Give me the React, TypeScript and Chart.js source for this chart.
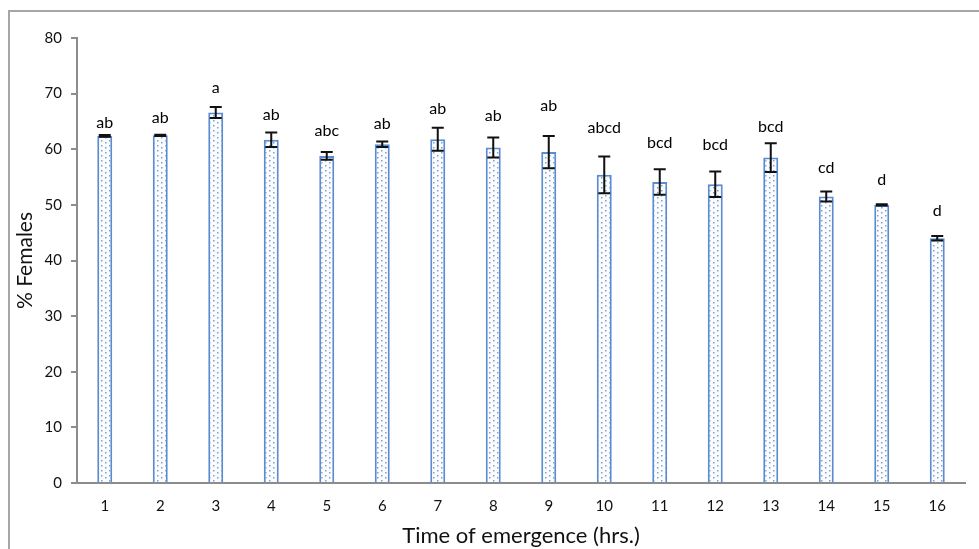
import React, { useEffect, useRef } from "react";
import { Chart, registerables } from "chart.js";

Chart.register(...registerables);

const categories = ["1", "2", "3", "4", "5", "6", "7", "8", "9", "10", "11", "12", "13", "14", "15", "16"];
const femalesPct = [62.4, 62.5, 66.6, 61.7, 58.8, 60.9, 61.8, 60.3, 59.5, 55.4, 54.1, 53.7, 58.5, 51.5, 50.0, 44.0];
const stdErrors = [0.15, 0.1, 1.0, 1.3, 0.7, 0.5, 2.05, 1.8, 2.9, 3.3, 2.3, 2.3, 2.6, 0.9, 0.1, 0.4];
const letters = ["ab", "ab", "a", "ab", "abc", "ab", "ab", "ab", "ab", "abcd", "bcd", "bcd", "bcd", "cd", "d", "d"];
const letterLevels = [64.7, 65.7, 71.0, 66.2, 63.3, 64.5, 67.2, 66.0, 67.8, 63.9, 61.2, 60.8, 64.1, 56.7, 54.5, 49.0];
const yTicks = [0, 10, 20, 30, 40, 50, 60, 70, 80];

const FONT = "Lato, 'Open Sans', sans-serif";

function makePattern(): CanvasPattern | string {
  const c = document.createElement("canvas");
  c.width = 8;
  c.height = 5;
  const ctx = c.getContext("2d");
  if (!ctx) return "#f7f9fd";
  ctx.fillStyle = "#fbfcfe";
  ctx.fillRect(0, 0, 8, 5);
  ctx.fillStyle = "#7f9fcc";
  ctx.fillRect(1, 2, 1.5, 1.5);
  ctx.fillRect(5, 0, 1.5, 1.5);
  const p = ctx.createPattern(c, "repeat");
  return p || "#f7f9fd";
}

const errorBarPlugin = {
  id: "errorBars",
  afterDatasetsDraw(chart: any) {
    const ctx = chart.ctx;
    const meta = chart.getDatasetMeta(0);
    const y = chart.scales.y;
    ctx.save();
    ctx.strokeStyle = "#111";
    ctx.lineWidth = 2;
    meta.data.forEach((bar: any, i: number) => {
      const v = femalesPct[i];
      const e = stdErrors[i];
      const x = bar.x;
      const yTop = y.getPixelForValue(v + e);
      const yBot = y.getPixelForValue(v - e);
      ctx.beginPath();
      ctx.moveTo(x, yTop);
      ctx.lineTo(x, yBot);
      ctx.moveTo(x - 6, yTop);
      ctx.lineTo(x + 6, yTop);
      ctx.moveTo(x - 6, yBot);
      ctx.lineTo(x + 6, yBot);
      ctx.stroke();
    });
    ctx.fillStyle = "#000";
    ctx.font = `16px ${FONT}`;
    ctx.textAlign = "center";
    ctx.textBaseline = "middle";
    meta.data.forEach((bar: any, i: number) => {
      ctx.fillText(letters[i], bar.x, y.getPixelForValue(letterLevels[i]));
    });
    ctx.restore();
  },
};

export default function App() {
  const ref = useRef<HTMLCanvasElement | null>(null);

  useEffect(() => {
    if (!ref.current) return;
    const chart = new Chart(ref.current, {
      type: "bar",
      data: {
        labels: categories,
        datasets: [
          {
            label: "% Females",
            data: femalesPct,
            backgroundColor: makePattern() as any,
            borderColor: "#5b8bd0",
            borderWidth: 2,
            barPercentage: 0.27,
            categoryPercentage: 1,
          },
        ],
      },
      options: {
        animation: false,
        responsive: false,
        maintainAspectRatio: false,
        layout: { padding: { left: 0, right: 14, top: 38, bottom: 0 } },
        plugins: {
          legend: { display: false },
          tooltip: { enabled: false },
        },
        scales: {
          x: {
            grid: { display: false, drawTicks: false },
            border: { display: true, color: "#8c8c8c", width: 2 },
            ticks: { color: "#111", font: { family: FONT, size: 15 }, padding: 14 },
            title: {
              display: true,
              text: "Time of emergence (hrs.)",
              color: "#111",
              font: { family: FONT, size: 22 },
              padding: { top: 5, bottom: 0 },
            },
            afterFit: (scale: any) => {
              scale.height = 66;
            },
          },
          y: {
            min: 0,
            max: 80,
            afterBuildTicks: (scale: any) => {
              scale.ticks = yTicks.map((v) => ({ value: v }));
            },
            grid: { display: true, drawOnChartArea: false, drawTicks: true, tickLength: 6, color: "#8c8c8c", lineWidth: 2 },
            border: { display: true, color: "#8c8c8c", width: 2 },
            ticks: { color: "#111", font: { family: FONT, size: 15 }, padding: 9 },
            title: {
              display: true,
              text: "% Females",
              color: "#111",
              font: { family: FONT, size: 21 },
              padding: { top: 13, bottom: 0 },
            },
            afterFit: (scale: any) => {
              scale.width = 77;
            },
          },
        },
      },
      plugins: [errorBarPlugin],
    });
    return () => chart.destroy();
  }, []);

  return (
    <div style={{ position: "fixed", left: 0, top: 0, width: 979, height: 549, background: "#fff", overflow: "hidden" }}>
      <div
        style={{
          position: "absolute",
          left: 8,
          top: 10,
          width: 1000,
          height: 600,
          borderTop: "2px solid #a6a6a6",
          borderLeft: "2px solid #a6a6a6",
        }}
      />
      <canvas ref={ref} width={979} height={549} style={{ position: "absolute", left: 0, top: 0 }} />
    </div>
  );
}
